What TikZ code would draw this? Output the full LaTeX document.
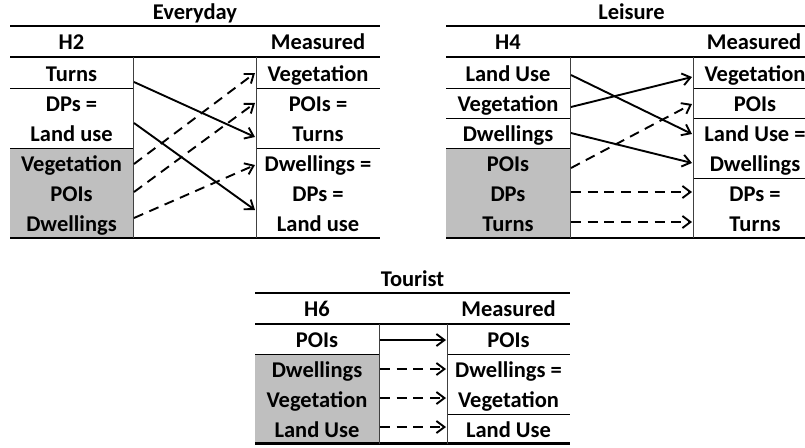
\documentclass[tikz,border=0pt]{standalone}
\usepackage{fontspec}
\setmainfont{Carlito}
\usetikzlibrary{arrows.meta}
\begin{document}
\begin{tikzpicture}[x=1pt,y=-1pt,
  font=\fontsize{22.5}{27}\selectfont\bfseries,
  thickrule/.style={line width=2.5pt},
  thinrule/.style={line width=0.9pt},
  vrule/.style={line width=1pt, black!75},
  lbl/.style={anchor=base, inner sep=0pt},
  solidarr/.style={line width=1.9pt, -{Straight Barb[length=8pt,width=12pt,line width=1.9pt]}},
  dasharr/.style={solidarr, dash pattern=on 10pt off 6.7pt},
  shade/.style={fill=black!25}]
\useasboundingbox (0,0) rectangle (805,447);
\clip (0,0) rectangle (805,447);

% ---------------- Everyday ----------------
\fill[shade] (10,148) rectangle (133,238);
\draw[thickrule] (10,26) -- (380,26) (10,57) -- (380,57) (10,238) -- (380,238);
\draw[thinrule] (10,88) -- (133,88) (10,148) -- (133,148) (256,88) -- (380,88) (256,148) -- (380,148);
\draw[vrule] (133,57) -- (133,238) (256,57) -- (256,238);
\node[lbl] (evT) at (195,19) {Everyday};
\node[lbl] (evH) at (71.5,49) {H2};
\node[lbl] (evM) at (318,49) {Measured};
\node[lbl] (evL1) at (71.5,81) {Turns};
\node[lbl] (evL2) at (71.5,111) {DPs =};
\node[lbl] (evL3) at (71.5,141) {Land use};
\node[lbl] (evL4) at (71.5,171) {Vegetation};
\node[lbl] (evL5) at (71.5,201) {POIs};
\node[lbl] (evL6) at (71.5,231) {Dwellings};
\node[lbl] (evR1) at (318,81) {Vegetation};
\node[lbl] (evR2) at (318,111) {POIs =};
\node[lbl] (evR3) at (318,141) {Turns};
\node[lbl] (evR4) at (318,171) {Dwellings =};
\node[lbl] (evR5) at (318,201) {DPs =};
\node[lbl] (evR6) at (318,231) {Land use};
\coordinate (ea1s) at (134,82);  \coordinate (ea1e) at (255,137);
\coordinate (ea2s) at (134,123); \coordinate (ea2e) at (255,210);
\coordinate (ed1s) at (134,164); \coordinate (ed1e) at (255,73);
\coordinate (ed2s) at (134,192); \coordinate (ed2e) at (255,103);
\coordinate (ed3s) at (134,218); \coordinate (ed3e) at (255,165);
\draw[solidarr] (ea1s) -- (ea1e);
\draw[solidarr] (ea2s) -- (ea2e);
\draw[dasharr] (ed1s) -- (ed1e);
\draw[dasharr] (ed2s) -- (ed2e);
\draw[dasharr] (ed3s) -- (ed3e);

% ---------------- Leisure ----------------
\fill[shade] (446,148) rectangle (570,238);
\draw[thickrule] (446,26) -- (817,26) (446,57) -- (817,57) (446,238) -- (817,238);
\draw[thinrule] (446,88) -- (570,88) (446,118) -- (570,118) (446,148) -- (570,148)
  (693,88) -- (817,88) (693,118) -- (817,118) (693,178) -- (817,178);
\draw[vrule] (570,57) -- (570,238) (693,57) -- (693,238);
\node[lbl] (leT) at (631.5,19) {Leisure};
\node[lbl] (leH) at (508,49) {H4};
\node[lbl] (leM) at (754,49) {Measured};
\node[lbl] (leL1) at (508,81) {Land Use};
\node[lbl] (leL2) at (508,111) {Vegetation};
\node[lbl] (leL3) at (508,141) {Dwellings};
\node[lbl] (leL4) at (508,171) {POIs};
\node[lbl] (leL5) at (508,201) {DPs};
\node[lbl] (leL6) at (508,231) {Turns};
\node[lbl] (leR1) at (755,81) {Vegetation};
\node[lbl] (leR2) at (755,111) {POIs};
\node[lbl] (leR3) at (755,141) {Land Use =};
\node[lbl] (leR4) at (755,171) {Dwellings};
\node[lbl] (leR5) at (755,201) {DPs =};
\node[lbl] (leR6) at (755,231) {Turns};
\coordinate (la1s) at (571,75);  \coordinate (la1e) at (692,134);
\coordinate (la2s) at (571,107); \coordinate (la2e) at (692,77);
\coordinate (la3s) at (571,133); \coordinate (la3e) at (692,163);
\coordinate (ld1s) at (571,168); \coordinate (ld1e) at (692,104);
\coordinate (ld2s) at (571,192); \coordinate (ld2e) at (692,192);
\coordinate (ld3s) at (571,222); \coordinate (ld3e) at (692,222);
\draw[solidarr] (la1s) -- (la1e);
\draw[solidarr] (la2s) -- (la2e);
\draw[solidarr] (la3s) -- (la3e);
\draw[dasharr] (ld1s) -- (ld1e);
\draw[dasharr] (ld2s) -- (ld2e);
\draw[dasharr] (ld3s) -- (ld3e);

% ---------------- Tourist ----------------
\fill[shade] (255,354) rectangle (379,443.5);
\draw[thickrule] (255,293) -- (570,293) (255,324) -- (570,324) (255,443.5) -- (570,443.5);
\draw[thinrule] (255,354) -- (379,354) (447,354) -- (570,354) (447,414) -- (570,414);
\draw[vrule] (379,324) -- (379,443.5) (447,324) -- (447,443.5);
\node[lbl] (toT) at (412.5,286) {Tourist};
\node[lbl] (toH) at (317,316) {H6};
\node[lbl] (toM) at (508.5,316) {Measured};
\node[lbl] (toL1) at (317,347) {POIs};
\node[lbl] (toL2) at (317,377) {Dwellings};
\node[lbl] (toL3) at (317,407) {Vegetation};
\node[lbl] (toL4) at (317,437) {Land Use};
\node[lbl] (toR1) at (508.5,347) {POIs};
\node[lbl] (toR2) at (508.5,377) {Dwellings =};
\node[lbl] (toR3) at (508.5,407) {Vegetation};
\node[lbl] (toR4) at (508.5,437) {Land Use};
\coordinate (ta1s) at (380,340); \coordinate (ta1e) at (446,340);
\coordinate (td1s) at (380,369); \coordinate (td1e) at (446,369);
\coordinate (td2s) at (380,398); \coordinate (td2e) at (446,398);
\coordinate (td3s) at (380,427); \coordinate (td3e) at (446,427);
\draw[solidarr] (ta1s) -- (ta1e);
\draw[dasharr] (td1s) -- (td1e);
\draw[dasharr] (td2s) -- (td2e);
\draw[dasharr] (td3s) -- (td3e);
\end{tikzpicture}
\end{document}
